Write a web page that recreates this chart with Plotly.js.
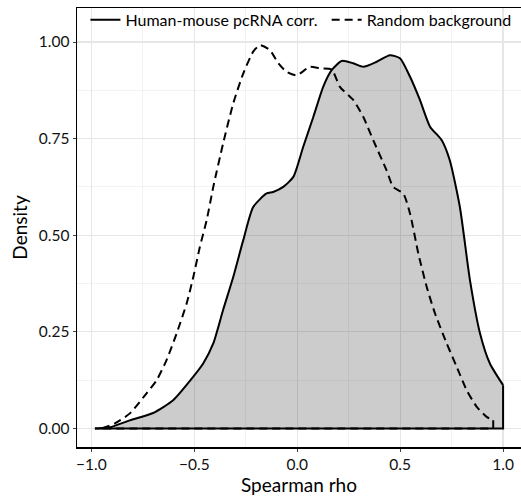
<!DOCTYPE html>
<html>
<head>
<meta charset="utf-8">
<script src="https://cdn.plot.ly/plotly-3.0.1.min.js"></script>
<style>html,body{margin:0;padding:0;background:#fff}#chart{width:521px;height:500px}</style>
</head>
<body>
<div id="chart"></div>
<script>
// Human-mouse pcRNA correlation density (solid, filled)
const humanX = [-0.983, -0.91, -0.813, -0.70, -0.603, -0.505, -0.457, -0.408, -0.360, -0.311, -0.262, -0.214, -0.149, -0.117, -0.068, -0.019, 0.029, 0.078, 0.126, 0.167, 0.216, 0.272, 0.321, 0.386, 0.450, 0.499, 0.548, 0.596, 0.645, 0.702, 0.741, 0.790, 0.839, 0.888, 0.936, 1.0];
const humanY = [0.0, 0.003, 0.021, 0.040, 0.073, 0.134, 0.168, 0.220, 0.307, 0.392, 0.488, 0.573, 0.608, 0.612, 0.625, 0.651, 0.729, 0.806, 0.884, 0.927, 0.951, 0.945, 0.936, 0.949, 0.966, 0.958, 0.910, 0.850, 0.781, 0.746, 0.694, 0.573, 0.384, 0.246, 0.168, 0.112];
// Random background density (dashed)
const randX = [-0.95, -0.886, -0.813, -0.732, -0.683, -0.635, -0.586, -0.537, -0.505, -0.473, -0.440, -0.408, -0.360, -0.311, -0.262, -0.214, -0.181, -0.133, -0.092, -0.052, -0.003, 0.062, 0.110, 0.167, 0.207, 0.272, 0.321, 0.369, 0.434, 0.466, 0.515, 0.548, 0.588, 0.629, 0.669, 0.726, 0.775, 0.823, 0.872, 0.920, 0.952];
const randY = [0.0, 0.013, 0.039, 0.091, 0.125, 0.177, 0.246, 0.324, 0.392, 0.470, 0.539, 0.625, 0.738, 0.841, 0.919, 0.975, 0.992, 0.979, 0.945, 0.923, 0.914, 0.936, 0.932, 0.929, 0.884, 0.850, 0.806, 0.746, 0.668, 0.625, 0.608, 0.556, 0.453, 0.366, 0.298, 0.220, 0.159, 0.099, 0.056, 0.030, 0.021];
const xTicks = [-1.0, -0.5, 0.0, 0.5, 1.0];
const xTickText = ['\u22121.0', '\u22120.5', '0.0', '0.5', '1.0'];
const yTicks = [0, 0.25, 0.5, 0.75, 1.0];
const yTickText = ['0.00', '0.25', '0.50', '0.75', '1.00'];
const seriesNames = ['Human-mouse pcRNA corr.', 'Random background'];

// closing edges of each density polygon (baseline and end drop)
function closing(xs, ys) {
  const n = xs.length - 1;
  return {x: [xs[n], xs[n], xs[0]], y: [ys[n], 0, 0]};
}
const hc = closing(humanX, humanY);
const rc = closing(randX, randY);
const FONT = 'Lato, "Open Sans", sans-serif';
const SPL = {shape: 'spline', smoothing: 0.6};

const traces = [
  {x: humanX, y: humanY, type: 'scatter', mode: 'lines', fill: 'tozeroy',
   fillcolor: 'rgba(0,0,0,0.2)', line: Object.assign({width: 0, color: 'rgba(0,0,0,0)'}, SPL), showlegend: false, hoverinfo: 'skip'},
  {x: hc.x, y: hc.y, type: 'scatter', mode: 'lines', showlegend: false,
   line: {color: '#000', width: 2}},
  {x: rc.x, y: rc.y, type: 'scatter', mode: 'lines', showlegend: false,
   line: {color: '#000', width: 2, dash: '8px,5px'}},
  {x: humanX, y: humanY, type: 'scatter', mode: 'lines', name: seriesNames[0] + '\u00a0',
   line: Object.assign({color: '#000', width: 2}, SPL)},
  {x: randX, y: randY, type: 'scatter', mode: 'lines', name: seriesNames[1],
   line: Object.assign({color: '#000', width: 2, dash: '8px,5px'}, SPL)}
];

const layout = {
  width: 521, height: 500,
  margin: {l: 77, r: 0, t: 8, b: 53},
  paper_bgcolor: '#fff', plot_bgcolor: '#fff',
  font: {family: FONT, size: 15, color: '#000'},
  showlegend: true,
  legend: {orientation: 'h', x: 0.019, y: 0.973, xanchor: 'left', yanchor: 'middle',
    bgcolor: 'rgba(255,255,255,0)', font: {family: FONT, size: 16, color: '#000'}, traceorder: 'normal'},
  xaxis: {
    range: [-1.070, 1.087], tickvals: xTicks, ticktext: xTickText,
    showgrid: true, gridcolor: '#e6e6e6', gridwidth: 1.2,
    minor: {dtick: 0.25, tick0: 0, showgrid: true, gridcolor: '#efefef', gridwidth: 0.8},
    zeroline: false, showline: true, linecolor: '#000', linewidth: 1.5, mirror: true,
    ticks: 'outside', ticklen: 3, tickcolor: '#444', tickwidth: 1,
    tickfont: {family: FONT, size: 15.5, color: '#111'},
    title: {text: 'Spearman rho', font: {family: FONT, size: 19, color: '#000'}, standoff: 4}
  },
  yaxis: {
    range: [-0.048, 1.088], tickvals: yTicks, ticktext: yTickText,
    showgrid: true, gridcolor: '#e6e6e6', gridwidth: 1.2,
    minor: {dtick: 0.125, tick0: 0, showgrid: true, gridcolor: '#efefef', gridwidth: 0.8},
    zeroline: false, showline: true, linecolor: '#000', linewidth: 1.5, mirror: false,
    ticks: 'outside', ticklen: 3, tickcolor: '#444', tickwidth: 1,
    tickfont: {family: FONT, size: 15.5, color: '#111'},
    title: {text: 'Density', font: {family: FONT, size: 19, color: '#000'}, standoff: 6}
  }
};
Plotly.newPlot('chart', traces, layout, {displayModeBar: false, staticPlot: true});
</script>
</body>
</html>
